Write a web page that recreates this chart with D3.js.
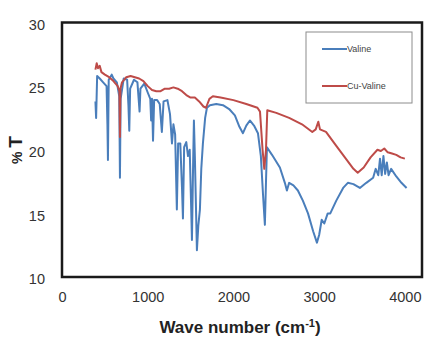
<!DOCTYPE html>
<html>
<head>
<meta charset="utf-8">
<script src="https://cdn.jsdelivr.net/npm/d3@7/dist/d3.min.js"></script>
<style>
  html, body { margin: 0; padding: 0; background: #fff; }
  svg { display: block; }
</style>
</head>
<body>
<script>
// IR spectra: [wave number (cm-1), %T]
const valine = [
  [390, 23.8], [398, 22.5], [410, 25.8], [440, 25.6], [480, 25.3], [520, 25.0],
  [530, 22.0], [536, 19.2], [545, 25.5], [580, 25.9], [600, 25.6], [640, 25.3],
  [668, 24.2], [676, 17.8], [684, 24.0], [720, 25.6], [760, 25.5], [775, 23.5],
  [785, 21.5], [795, 24.8], [840, 25.5], [880, 25.3], [905, 23.0], [915, 24.8],
  [960, 25.2], [1000, 24.5], [1030, 24.0], [1040, 22.3], [1050, 24.0], [1062, 20.7],
  [1075, 23.9], [1110, 23.9], [1140, 23.6], [1165, 21.4], [1185, 23.8], [1230, 23.9],
  [1260, 22.8], [1283, 20.5], [1300, 22.0], [1320, 21.2], [1340, 15.3], [1355, 20.5],
  [1380, 20.5], [1400, 17.0], [1411, 14.6], [1425, 20.2], [1450, 20.6], [1470, 19.5],
  [1490, 20.0], [1505, 16.0], [1516, 12.9], [1530, 19.0], [1539, 22.3], [1550, 19.5],
  [1574, 12.1], [1590, 14.0], [1609, 15.3], [1625, 18.5], [1644, 20.5], [1670, 22.5],
  [1691, 23.3], [1726, 23.5], [1800, 23.6], [1878, 23.5], [1950, 23.2], [2017, 22.7],
  [2070, 21.8], [2111, 21.3], [2150, 21.9], [2192, 22.3], [2240, 21.9], [2286, 21.3],
  [2320, 19.5], [2345, 16.5], [2367, 14.1], [2380, 17.5], [2391, 20.2], [2450, 19.6],
  [2542, 18.6], [2600, 17.4], [2624, 16.8], [2650, 17.4], [2700, 17.2], [2752, 16.8],
  [2810, 16.0], [2870, 15.0], [2930, 13.6], [2974, 12.7], [3000, 13.3], [3030, 14.5],
  [3060, 14.2], [3100, 15.0], [3130, 15.0], [3200, 16.0], [3280, 17.0], [3335, 17.4],
  [3400, 17.3], [3475, 17.0], [3550, 17.4], [3630, 17.8], [3660, 18.5], [3690, 18.0],
  [3710, 19.3], [3730, 18.0], [3750, 19.5], [3770, 18.1], [3790, 19.0], [3810, 18.0],
  [3840, 18.5], [3900, 17.9], [3960, 17.4], [4020, 17.0]
];

const cuValine = [
  [390, 26.3], [405, 26.8], [420, 26.4], [440, 26.6], [460, 26.1], [500, 25.9],
  [550, 25.7], [600, 25.4], [650, 25.0], [670, 24.6], [676, 21.0], [682, 24.8],
  [700, 25.3], [750, 25.7], [800, 25.8], [850, 25.7], [900, 25.6], [950, 25.4],
  [1000, 25.0], [1050, 24.7], [1100, 24.6], [1150, 24.6], [1200, 24.8], [1250, 24.8],
  [1300, 24.9], [1350, 24.8], [1400, 24.6], [1450, 24.3], [1500, 24.1], [1550, 24.1],
  [1600, 23.8], [1650, 23.4], [1680, 23.3], [1720, 24.0], [1760, 24.2], [1850, 24.1],
  [2000, 23.9], [2150, 23.6], [2280, 23.3], [2310, 23.0], [2340, 20.0], [2360, 18.5],
  [2380, 20.0], [2395, 23.1], [2500, 22.9], [2650, 22.5], [2800, 22.0], [2920, 21.4],
  [2960, 21.6], [2990, 22.2], [3010, 21.6], [3080, 21.4], [3200, 20.3], [3300, 19.4],
  [3400, 18.5], [3450, 18.2], [3520, 18.6], [3600, 19.4], [3680, 20.0], [3720, 19.9],
  [3760, 20.1], [3800, 19.8], [3850, 19.7], [3900, 19.6], [3950, 19.4], [4000, 19.3]
];

const xTicks = [0, 1000, 2000, 3000, 4000];
const yTicks = [10, 15, 20, 25, 30];
const seriesNames = ["Valine", "Cu-Valine"];
const seriesColors = ["#4a7ebb", "#be4b48"];

const W = 426, H = 341;
const svg = d3.select("body").append("svg").attr("width", W).attr("height", H);

const x = d3.scaleLinear().domain([0, 4200]).range([62, 422]);
const y = d3.scaleLinear().domain([10, 30]).range([277, 22.5]);

const line = d3.line().x(d => x(d[0])).y(d => y(d[1]));

// spectra
[valine, cuValine].forEach((data, i) => {
  svg.append("path")
    .datum(data)
    .attr("fill", "none")
    .attr("stroke", seriesColors[i])
    .attr("stroke-width", 2)
    .attr("stroke-linejoin", "round")
    .attr("d", line);
});

// plot frame
svg.append("rect")
  .attr("x", x(0)).attr("y", y(30))
  .attr("width", x(4200) - x(0)).attr("height", y(10) - y(30))
  .attr("fill", "none").attr("stroke", "#1a1a1a").attr("stroke-width", 2.5);

// axes (labels only)
const xAxis = d3.axisBottom(x).tickValues(xTicks).tickFormat(d3.format("d")).tickSize(0).tickPadding(0);
const gx = svg.append("g").attr("transform", `translate(0,${y(10) + 20})`).call(xAxis);
const yAxis = d3.axisLeft(y).tickValues(yTicks).tickFormat(d3.format("d")).tickSize(0).tickPadding(0);
const gy = svg.append("g").attr("transform", `translate(${x(0) - 17},2)`).call(yAxis);
[gx, gy].forEach(g => {
  g.select(".domain").remove();
  g.selectAll("text")
    .attr("font-family", "Liberation Sans, Arial, sans-serif")
    .attr("font-size", 14.5)
    .attr("fill", "#333");
});
gx.selectAll("text").attr("dy", "0.35em");

// axis titles
svg.append("text")
  .attr("x", 240).attr("y", 333)
  .attr("text-anchor", "middle")
  .attr("font-family", "Liberation Sans, Arial, sans-serif")
  .attr("font-weight", "bold").attr("font-size", 17).attr("fill", "#222")
  .text("Wave number (cm")
  .append("tspan").attr("dy", -6).attr("font-size", 11).text("-1")
  .select(function () { return this.parentNode; })
  .append("tspan").attr("dy", 6).text(")");

const yTitle = svg.append("text")
  .attr("transform", "translate(22,150) rotate(-90)")
  .attr("text-anchor", "middle")
  .attr("font-family", "Liberation Sans, Arial, sans-serif")
  .attr("font-weight", "bold").attr("fill", "#222");
yTitle.append("tspan").attr("font-size", 14).text("% ");
yTitle.append("tspan").attr("font-size", 19).text("T");

// legend
const lg = svg.append("g");
lg.append("rect")
  .attr("x", 306).attr("y", 32).attr("width", 106).attr("height", 71)
  .attr("fill", "#fff").attr("stroke", "#8c8c8c").attr("stroke-width", 1);
seriesNames.forEach((name, i) => {
  const ly = 49 + i * 37;
  lg.append("line")
    .attr("x1", 322).attr("x2", 347).attr("y1", ly).attr("y2", ly)
    .attr("stroke", seriesColors[i]).attr("stroke-width", 2);
  lg.append("text")
    .attr("x", 347).attr("y", ly).attr("dy", "0.35em")
    .attr("font-family", "Liberation Sans, Arial, sans-serif")
    .attr("font-size", 9).attr("fill", "#444")
    .text(name);
});
</script>
</body>
</html>
